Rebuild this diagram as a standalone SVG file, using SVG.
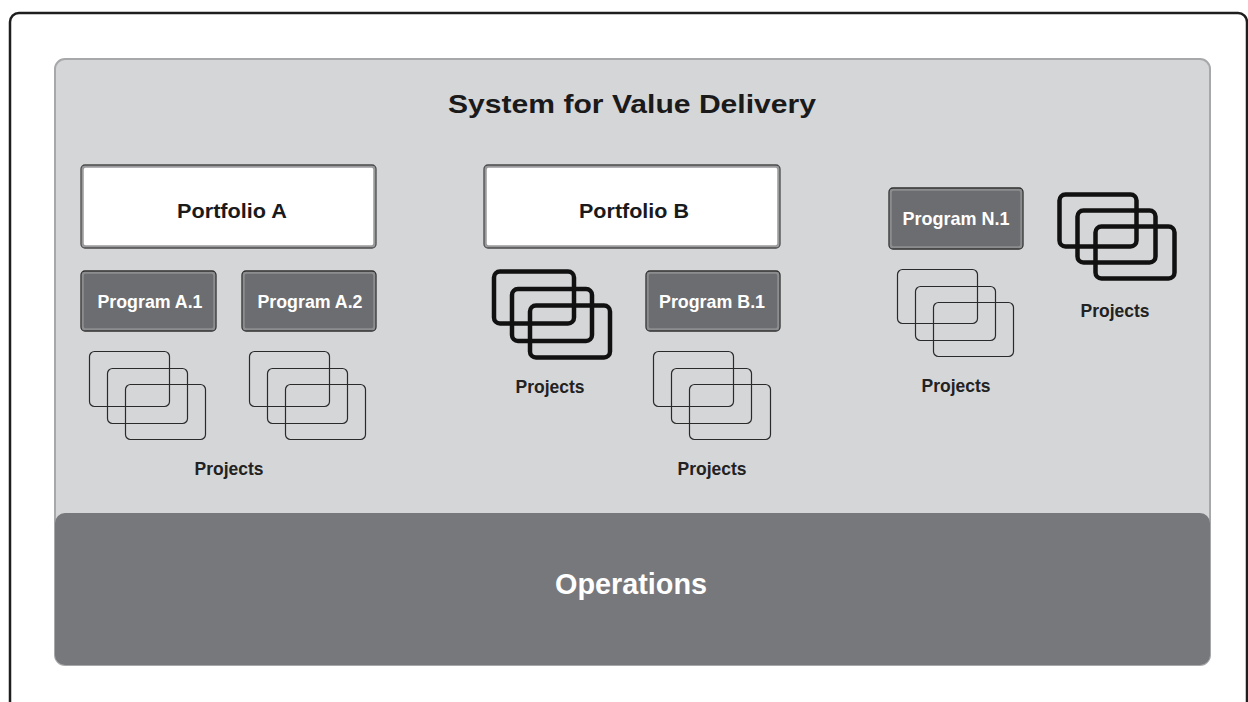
<svg xmlns="http://www.w3.org/2000/svg" width="1248" height="702" viewBox="0 0 1248 702">
<style>
.frame{fill:#ffffff;stroke:#1e1e1e;stroke-width:2.5}
.panel{fill:#d5d6d8;stroke:#a7a8aa;stroke-width:2}
.ops{fill:#77787c}
.title{font-family:"Liberation Sans",Arial,sans-serif;font-weight:bold;font-size:26px;fill:#1a1a1a;text-anchor:middle}
.pf{fill:#ffffff;stroke:#9a9b9d;stroke-width:2.5}
.pfo{fill:none;stroke:#4a4a4a;stroke-width:1.3}
.pft{font-family:"Liberation Sans",Arial,sans-serif;font-weight:bold;font-size:21px;fill:#1a1a1a;text-anchor:middle}
.pg{fill:#6c6d70;stroke:#8c8d8f;stroke-width:2.5}
.pgo{fill:none;stroke:#2e2e2e;stroke-width:1.3}
.pgt{font-family:"Liberation Sans",Arial,sans-serif;font-weight:bold;font-size:19px;fill:#ffffff;text-anchor:middle}
.thin{fill:none;stroke:#2a2a2a;stroke-width:1.2}
.thick{fill:none;stroke:#111111;stroke-width:4.5}
.lbl{font-family:"Liberation Sans",Arial,sans-serif;font-weight:bold;font-size:18px;fill:#222;text-anchor:middle}
.opt{font-family:"Liberation Sans",Arial,sans-serif;font-weight:bold;font-size:29px;fill:#ffffff;text-anchor:middle}
</style>
<rect width="1248" height="702" fill="#ffffff"/>
<rect class="frame" x="10" y="13" width="1237" height="730" rx="9"/>
<g id="system">
<rect class="panel" x="55" y="59" width="1155" height="606" rx="10"/>
<text class="title" x="632" y="113" textLength="368" lengthAdjust="spacingAndGlyphs">System for Value Delivery</text>
</g>
<g id="operations">
<rect class="ops" x="55" y="513" width="1155" height="152" rx="10"/>
<text class="opt" x="631" y="594" textLength="152" lengthAdjust="spacingAndGlyphs">Operations</text>
</g>
<g id="portfolio-a">
<rect class="pf" x="82.5" y="166.5" width="292" height="80" rx="3"/>
<rect class="pfo" x="81" y="165" width="295" height="83" rx="4"/>
<text class="pft" x="232" y="218" textLength="110" lengthAdjust="spacingAndGlyphs">Portfolio A</text>
</g>
<g id="portfolio-b">
<rect class="pf" x="485.5" y="166.5" width="293" height="80" rx="3"/>
<rect class="pfo" x="484" y="165" width="296" height="83" rx="4"/>
<text class="pft" x="634" y="218" textLength="110" lengthAdjust="spacingAndGlyphs">Portfolio B</text>
</g>
<g id="program-a1">
<rect class="pg" x="82.5" y="272.5" width="132" height="57" rx="3"/>
<rect class="pgo" x="81" y="271" width="135" height="60" rx="4"/>
<text class="pgt" x="150" y="308" textLength="105" lengthAdjust="spacingAndGlyphs">Program A.1</text>
</g>
<g id="program-a2">
<rect class="pg" x="243.5" y="272.5" width="131" height="57" rx="3"/>
<rect class="pgo" x="242" y="271" width="134" height="60" rx="4"/>
<text class="pgt" x="310" y="308" textLength="105" lengthAdjust="spacingAndGlyphs">Program A.2</text>
</g>
<g id="program-b1">
<rect class="pg" x="647.5" y="272.5" width="131" height="57" rx="3"/>
<rect class="pgo" x="646" y="271" width="134" height="60" rx="4"/>
<text class="pgt" x="712" y="308" textLength="106" lengthAdjust="spacingAndGlyphs">Program B.1</text>
</g>
<g id="program-n1">
<rect class="pg" x="890.5" y="189.5" width="131" height="58" rx="3"/>
<rect class="pgo" x="889" y="188" width="134" height="61" rx="4"/>
<text class="pgt" x="956" y="225" textLength="107" lengthAdjust="spacingAndGlyphs">Program N.1</text>
</g>
<g id="projects-a1">
<rect class="thin" x="89.5" y="351.5" width="80" height="55" rx="5"/>
<rect class="thin" x="107.5" y="368.5" width="80" height="55" rx="5"/>
<rect class="thin" x="125.5" y="384.5" width="80" height="55" rx="5"/>
</g>
<g id="projects-a2">
<rect class="thin" x="249.5" y="351.5" width="80" height="55" rx="5"/>
<rect class="thin" x="267.5" y="368.5" width="80" height="55" rx="5"/>
<rect class="thin" x="285.5" y="384.5" width="80" height="55" rx="5"/>
<text class="lbl" x="229" y="475" textLength="69" lengthAdjust="spacingAndGlyphs">Projects</text>
</g>
<g id="projects-b">
<rect class="thick" x="494" y="271.5" width="80" height="52" rx="6"/>
<rect class="thick" x="512" y="289" width="80" height="52" rx="6"/>
<rect class="thick" x="530" y="305.5" width="80" height="52" rx="6"/>
<text class="lbl" x="550" y="393" textLength="69" lengthAdjust="spacingAndGlyphs">Projects</text>
</g>
<g id="projects-b1">
<rect class="thin" x="653.5" y="351.5" width="80" height="55" rx="5"/>
<rect class="thin" x="671.5" y="368.5" width="80" height="55" rx="5"/>
<rect class="thin" x="689.5" y="384.5" width="81" height="55" rx="5"/>
<text class="lbl" x="712" y="475" textLength="69" lengthAdjust="spacingAndGlyphs">Projects</text>
</g>
<g id="projects-n1">
<rect class="thin" x="897.5" y="269.5" width="80" height="54" rx="5"/>
<rect class="thin" x="915.5" y="286.5" width="80" height="54" rx="5"/>
<rect class="thin" x="933.5" y="302.5" width="80" height="54" rx="5"/>
<text class="lbl" x="956" y="392" textLength="69" lengthAdjust="spacingAndGlyphs">Projects</text>
</g>
<g id="projects-n">
<rect class="thick" x="1059.5" y="194.5" width="77" height="52" rx="6"/>
<rect class="thick" x="1077.5" y="210.5" width="78" height="52" rx="6"/>
<rect class="thick" x="1095.5" y="226.5" width="79" height="52" rx="6"/>
<text class="lbl" x="1115" y="317" textLength="69" lengthAdjust="spacingAndGlyphs">Projects</text>
</g>
<g id="connectors"/>
</svg>
